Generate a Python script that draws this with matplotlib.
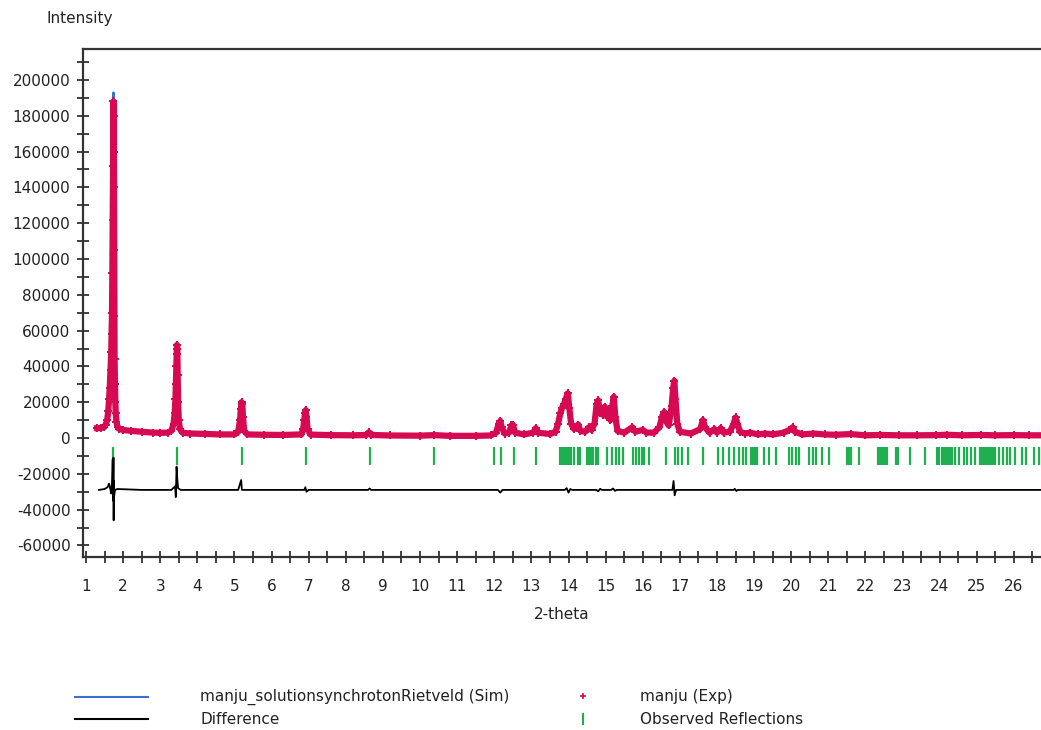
import numpy as np
import matplotlib
matplotlib.use('Agg')
import matplotlib.pyplot as plt
from matplotlib.lines import Line2D
from matplotlib.ticker import MultipleLocator

plt.rcParams['axes.unicode_minus'] = False

# ===== DATA =====
# observed pattern (2-theta, counts)
two_theta = [
    1.30, 1.40, 1.48, 1.53, 1.57, 1.60, 1.62, 1.64, 1.66, 1.68, 1.69, 1.70,
    1.71, 1.72, 1.73, 1.74, 1.745, 1.75, 1.755, 1.76, 1.765, 1.77, 1.78, 1.79,
    1.80, 1.82, 1.85, 1.90, 2.00, 2.20, 2.50, 2.80, 3.00, 3.20, 3.30, 3.36,
    3.39, 3.41, 3.42, 3.43, 3.44, 3.45, 3.46, 3.47, 3.48, 3.50, 3.53, 3.60,
    3.80, 4.20, 4.60, 5.00, 5.10, 5.15, 5.17, 5.19, 5.21, 5.23, 5.26, 5.35,
    5.80, 6.30, 6.80, 6.85, 6.88, 6.90, 6.92, 6.94, 6.97, 7.05, 7.60, 8.20,
    8.55, 8.62, 8.68, 9.20, 10.00, 10.38, 10.80, 11.50, 11.90, 12.05, 12.12, 12.16,
    12.20, 12.28, 12.40, 12.46, 12.50, 12.56, 12.80, 13.05, 13.12, 13.18, 13.50, 13.65,
    13.72, 13.78, 13.83, 13.88, 13.93, 13.98, 14.02, 14.07, 14.15, 14.26, 14.32, 14.45,
    14.55, 14.62, 14.70, 14.76, 14.80, 14.85, 14.92, 14.98, 15.03, 15.08, 15.13, 15.18,
    15.22, 15.26, 15.32, 15.50, 15.72, 15.80, 16.00, 16.10, 16.30, 16.45, 16.52, 16.58,
    16.64, 16.70, 16.78, 16.82, 16.85, 16.88, 16.93, 17.00, 17.30, 17.55, 17.62, 17.68,
    17.80, 17.93, 18.00, 18.10, 18.18, 18.35, 18.45, 18.50, 18.55, 18.62, 18.75, 18.90,
    19.10, 19.30, 19.50, 19.80, 19.95, 20.04, 20.10, 20.30, 20.60, 20.90, 21.20, 21.60,
    22.00, 22.40, 22.90, 23.40, 23.90, 24.20, 24.60, 25.10, 25.50, 26.00, 26.40, 26.80,
]
intensity_obs = [
    5500, 5600, 6000, 7500, 10000, 15000, 22000, 28000, 38000, 48000, 58000, 70000,
    92000, 122000, 152000, 188000, 180000, 160000, 140000, 105000, 68000, 44000, 30000, 20000,
    14000, 9000, 6000, 5000, 4500, 4000, 3500, 3000, 2900, 3000, 4000, 8000,
    14000, 22000, 30000, 40000, 47000, 52000, 50000, 35000, 20000, 10000, 5000, 3000,
    2500, 2300, 2000, 2000, 3500, 10000, 16000, 20000, 19000, 12000, 4000, 2000,
    1800, 1700, 2000, 5000, 10000, 14000, 15500, 12000, 5000, 1900, 1600, 1500,
    1700, 3200, 1700, 1400, 1300, 1600, 1200, 1200, 1400, 3000, 8000, 9500,
    6000, 2500, 3000, 7000, 7500, 3000, 2000, 3000, 5500, 3000, 2200, 3500,
    8000, 14000, 17000, 19000, 22000, 25000, 17000, 8000, 5000, 7500, 4000, 3500,
    6000, 4500, 8000, 19000, 21000, 14000, 13000, 17500, 12000, 15500, 10000, 18000,
    23000, 12000, 4000, 3000, 6000, 3500, 4500, 3000, 3000, 6000, 12000, 14500,
    9000, 7000, 18000, 28000, 32000, 22000, 8000, 3500, 2500, 5000, 10000, 6000,
    3000, 5000, 3000, 5500, 3000, 3500, 8000, 11500, 8000, 3500, 2500, 3000,
    2000, 2500, 2000, 3000, 4500, 6000, 3500, 2000, 2500, 2000, 1800, 2200,
    1500, 1700, 1500, 1500, 1600, 1800, 1500, 1700, 1500, 1600, 1500, 1500,
]
# calculated (Rietveld) profile on the same 2-theta points
intensity_calc = [
    5500, 5600, 6000, 7500, 10000, 15000, 21000, 27000, 36000, 46000, 55000, 66000,
    88000, 120000, 150000, 193000, 165000, 150000, 135000, 100000, 62000, 38000, 28000, 18000,
    14000, 9000, 6000, 5000, 4500, 4000, 3500, 3000, 2900, 3000, 4000, 8000,
    14000, 21000, 30000, 38000, 45000, 47000, 45000, 33000, 20000, 10000, 5000, 3000,
    2500, 2300, 2000, 2000, 3500, 10000, 16000, 18500, 18000, 12000, 4000, 2000,
    1800, 1700, 2000, 5000, 11000, 15000, 17000, 12000, 5000, 1900, 1600, 1500,
    1700, 3000, 1700, 1400, 1300, 1600, 1200, 1200, 1400, 3000, 8000, 11000,
    6000, 2500, 3000, 7000, 7500, 3000, 2000, 3000, 5500, 3000, 2200, 3500,
    8000, 14000, 17000, 19000, 22000, 24000, 17000, 8000, 5000, 7500, 4000, 3500,
    6000, 4500, 8000, 19000, 22000, 14000, 13000, 17500, 12000, 15500, 10000, 18000,
    22000, 12000, 4000, 3000, 6000, 3500, 4500, 3000, 3000, 6000, 12000, 14500,
    9000, 7000, 16000, 20000, 22000, 18000, 8000, 3500, 2500, 5000, 10000, 6000,
    3000, 5000, 3000, 5500, 3000, 3500, 8000, 11500, 8000, 3500, 2500, 3000,
    2000, 2500, 2000, 3000, 4500, 6000, 3500, 2000, 2500, 2000, 1800, 2200,
    1500, 1700, 1500, 1500, 1600, 1800, 1500, 1700, 1500, 1600, 1500, 1500,
]

# obs - calc
two_theta_diff = [
    1.35, 1.50, 1.58, 1.62, 1.65, 1.68, 1.70, 1.72, 1.73, 1.74, 1.745, 1.75,
    1.76, 1.78, 1.85, 2.50, 3.30, 3.40, 3.42, 3.44, 3.46, 3.48, 3.55, 5.10,
    5.18, 5.20, 6.88, 6.91, 6.94, 7.00, 8.60, 8.64, 8.68, 12.10, 12.16, 12.22,
    13.90, 13.95, 14.00, 14.05, 14.10, 14.75, 14.80, 14.85, 14.90, 15.15, 15.20, 15.25,
    15.30, 16.80, 16.83, 16.86, 16.90, 18.45, 18.48, 18.52, 18.56, 26.80,
]
intensity_diff = [
    0, 500, 1500, 3500, 1000, -2000, 4000, 17000, -6000, 18000, -17000, 5000,
    -3000, 0, 500, 0, 0, 2000, -4000, 13000, 6000, 1000, 0, 0,
    5500, 0, 0, 1500, -1000, 0, 0, 800, 0, 0, -1500, 0,
    0, 1000, -1500, 500, 0, 0, -800, 600, 0, 0, 800, -500,
    0, 0, 5000, -3000, 0, 0, 600, -600, 0, 0,
]

# observed reflection positions
reflections = [
    1.74, 3.46, 5.20, 6.92, 8.64, 10.38,
    12.00, 12.19, 12.53, 13.12,
    13.77, 13.80, 13.85, 13.88, 13.93, 13.96, 14.01, 14.06, 14.15, 14.26, 14.30,
    14.50, 14.55, 14.60, 14.66, 14.74, 14.80,
    15.04, 15.17, 15.28, 15.36, 15.47, 15.74, 15.82, 15.90, 15.98, 16.04, 16.17,
    16.63, 16.87, 16.96, 17.06, 17.23, 17.63, 18.04,
    18.17, 18.33, 18.47, 18.60, 18.71, 18.79, 18.93, 18.96, 18.99, 19.03, 19.06, 19.09,
    19.28, 19.41, 19.60, 19.93, 20.01, 20.14, 20.22, 20.49, 20.60, 20.68, 20.82, 21.01,
    21.49, 21.53, 21.57, 21.61, 21.82, 22.33, 22.38, 22.42, 22.46, 22.50, 22.54, 22.57,
    22.81, 22.87, 23.19, 23.60, 23.92, 23.97, 24.06, 24.10, 24.14, 24.18, 24.22, 24.26,
    24.30, 24.33, 24.41, 24.52,
    24.65, 24.73, 24.84, 24.95, 25.08, 25.12, 25.16, 25.20, 25.24, 25.28, 25.32, 25.36,
    25.40, 25.44, 25.48, 25.60, 25.70, 25.81, 25.89, 26.03, 26.22, 26.32, 26.54, 26.67,
]

OBS_COLOR = '#d50a50'
CALC_COLOR = '#3a72d2'
REFL_COLOR = '#1fae50'
TEXT_COLOR = '#222222'
AXIS_COLOR = '#333333'

W, H = 1041, 730
fig = plt.figure(figsize=(W / 100, H / 100), dpi=100)
ax = fig.add_axes([83 / W, 1 - 557 / H, (W - 83) / W, (557 - 49) / H])

diff_offset = -29000
ax.plot(two_theta, intensity_calc, color=CALC_COLOR, lw=1.6, zorder=2)
ax.plot(two_theta, intensity_obs, color=OBS_COLOR, lw=4.5, zorder=3,
        solid_joinstyle='round')
ax.plot(two_theta, intensity_obs, ls='none', marker='+', ms=6, mew=1.4,
        color=OBS_COLOR, zorder=4)
ax.vlines(reflections, -15000, -5000, color=REFL_COLOR, lw=1.6, zorder=2)
ax.plot(two_theta_diff, np.array(intensity_diff) + diff_offset, color='black',
        lw=1.3, zorder=2)

ax.set_xlim(0.919, 26.73)
ax.set_ylim(-66480, 217318)

ax.spines['right'].set_visible(False)
for side in ('left', 'top', 'bottom'):
    ax.spines[side].set_color(AXIS_COLOR)
    ax.spines[side].set_linewidth(1.6)

ax.xaxis.set_major_locator(MultipleLocator(1))
ax.xaxis.set_minor_locator(MultipleLocator(0.5))
ax.yaxis.set_major_locator(MultipleLocator(20000))
ax.yaxis.set_minor_locator(MultipleLocator(10000))
ax.tick_params(which='both', direction='inout', length=8, width=1.3,
               color=AXIS_COLOR, top=False, right=False)
ax.tick_params(axis='y', labelsize=11, labelcolor=TEXT_COLOR, pad=5)
ax.tick_params(axis='x', labelsize=11, labelcolor=TEXT_COLOR, pad=12)

ax.set_xlabel('2-theta', fontsize=11, color=TEXT_COLOR)
ax.xaxis.set_label_coords(0.5, -0.098)
fig.text(80 / W, 1 - 19 / H, 'Intensity', fontsize=11, color=TEXT_COLOR,
         ha='center', va='center')

# legend, two columns under the axes
def fx(px):
    return px / W


def fy(py):
    return 1 - py / H


fig.add_artist(Line2D([fx(75), fx(148)], [fy(697), fy(697)], color=CALC_COLOR, lw=1.5))
fig.add_artist(Line2D([fx(75), fx(148)], [fy(719), fy(719)], color='black', lw=1.5))
fig.add_artist(Line2D([fx(583)], [fy(696)], ls='none', marker='+', ms=4, mew=1.2,
                      color=OBS_COLOR))
fig.add_artist(Line2D([fx(583), fx(583)], [fy(714), fy(724)], color=REFL_COLOR, lw=1.5))
legend_text = [
    (200, 697, 'manju_solutionsynchrotonRietveld (Sim)'),
    (200, 719, 'Difference'),
    (640, 697, 'manju (Exp)'),
    (640, 719, 'Observed Reflections'),
]
for px, py, label in legend_text:
    fig.text(fx(px), fy(py), label, fontsize=11, color=TEXT_COLOR, ha='left', va='center')

fig.savefig('out.png', dpi=100)
